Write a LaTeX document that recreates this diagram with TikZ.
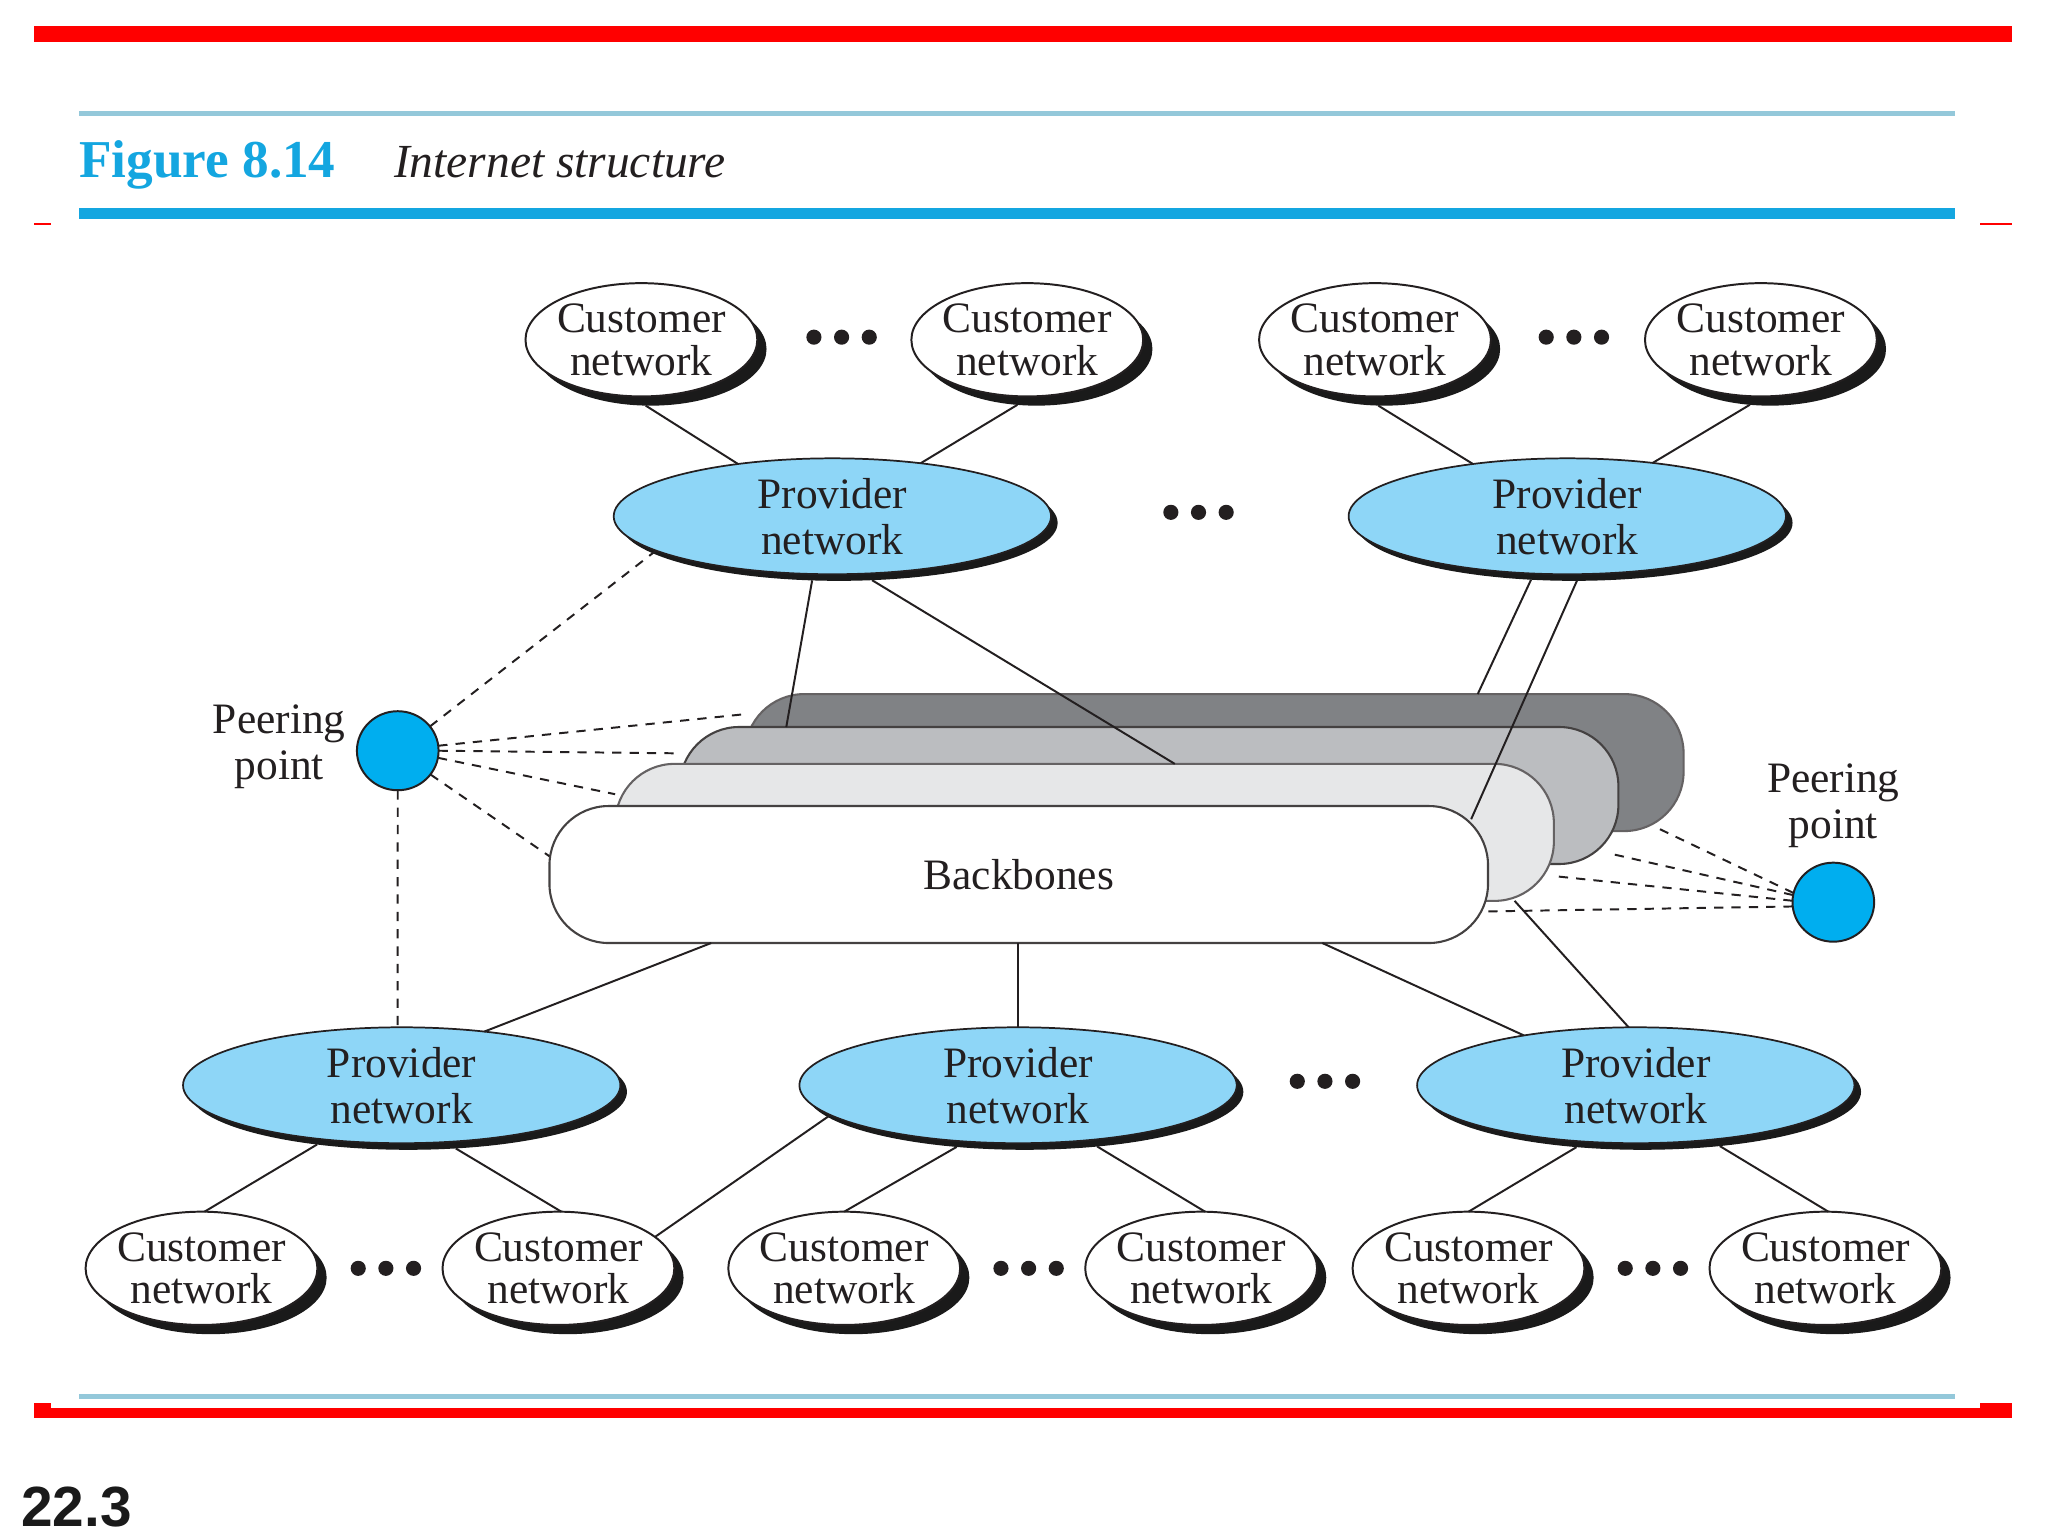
\documentclass[tikz,border=0pt]{standalone}
\usepackage{fontspec}
\usetikzlibrary{shapes.geometric}
\setmainfont{Liberation Serif}
\newfontfamily\arialbold[Scale=1]{Liberation Sans}
\definecolor{redbar}{HTML}{FF0000}
\definecolor{paleblue}{HTML}{94C8DA}
\definecolor{ruleblue}{HTML}{14A6E0}
\definecolor{provfill}{HTML}{8ED6F7}
\definecolor{peerfill}{HTML}{00AEEF}
\definecolor{shadowk}{HTML}{1A1A1A}
\definecolor{inkk}{HTML}{231F20}
\definecolor{layerA}{HTML}{808285}
\definecolor{layerB}{HTML}{BBBDC0}
\definecolor{layerC}{HTML}{E6E7E8}
\tikzset{
  x=0.04cm,y=-0.04cm,
  barred/.style={fill=redbar,draw=none},
  custsh/.style={ellipse,draw=none,fill=shadowk,minimum width=7.04cm,minimum height=3.44cm,inner sep=0pt,outer sep=0pt},
  cust/.style={ellipse,draw=inkk,line width=1.7pt,fill=white,minimum width=7.04cm,minimum height=3.44cm,inner sep=0pt,outer sep=0pt},
  provsh/.style={ellipse,draw=none,fill=shadowk,minimum width=13.28cm,minimum height=3.52cm,inner sep=0pt,outer sep=0pt},
  prov/.style={ellipse,draw=inkk,line width=1.5pt,fill=provfill,minimum width=13.28cm,minimum height=3.52cm,inner sep=0pt,outer sep=0pt},
  peer/.style={ellipse,draw=inkk,line width=1.7pt,fill=peerfill,minimum width=2.48cm,minimum height=2.4cm,inner sep=0pt,outer sep=0pt},
  layer/.style={rectangle,rounded corners=1.8cm,draw=#1,line width=1.8pt,minimum width=28.5cm,minimum height=4.16cm,inner sep=0pt,outer sep=0pt},
  custtxt/.style={text=inkk,align=center,font=\fontsize{37.5}{36.4}\selectfont,inner sep=0pt},
  provtxt/.style={text=inkk,align=center,font=\fontsize{37.5}{39.8}\selectfont,inner sep=0pt},
  wire/.style={draw=inkk,line width=1.7pt},
  dashwire/.style={draw=inkk,line width=1.7pt,dash pattern=on 8pt off 7pt},
  dotk/.style={circle,fill=inkk,draw=none,minimum size=0.46cm,inner sep=0pt},
}
\begin{document}
\begin{tikzpicture}
\useasboundingbox (0,0) rectangle (1555,1166.25);
\fill[white] (0,0) rectangle (1555,1166.25);
% frame rules
\fill[barred] (26,20) rectangle (1528,32);
\fill[paleblue] (60,84) rectangle (1484,88);
\fill[ruleblue] (60,158) rectangle (1484,166);
\fill[barred] (26,169) rectangle (39,171);
\fill[barred] (1503,169) rectangle (1528,171);
\fill[paleblue] (60,1058.5) rectangle (1484,1062);
\fill[barred] (26,1069) rectangle (1528,1077);
\fill[barred] (26,1065) rectangle (39,1069);
\fill[barred] (1503,1065) rectangle (1528,1069);
% title
\node[anchor=base west,inner sep=0pt,text=ruleblue,font=\fontsize{46}{46}\selectfont\bfseries] (figno) at (60,135) {Figure 8.14};
\node[anchor=base west,inner sep=0pt,text=inkk,font=\fontsize{41}{41}\selectfont\itshape] (figtitle) at (299,135) {Internet structure};
\node[anchor=base west,inner sep=0pt,text=shadowk,font=\fontsize{49}{49}\selectfont\arialbold\bfseries] (pageno) at (16,1159) {22.3};
% backbones
\node[layer=inkk!70,fill=layerA] (bbD) at (922,579) {};
\node[layer=inkk!85,fill=layerB] (bbC) at (872.5,604) {};
\node[layer=inkk!70,fill=layerC] (bbB) at (823.5,632) {};
\node[layer=inkk!85,fill=white,font=\fontsize{37.5}{40}\selectfont,text=inkk] (bbA) at (773.5,664) {Backbones};
% customer networks
\foreach \n/\x/\y in {c1/487/258,c2/780/258,c3/1044/258,c4/1337/258,c5/153/963,c6/424/963,c7/641/963,c8/912/963,c9/1115/963,c10/1386/963}{
  \node[custsh] (\n s) at (\x+7,\y+7) {};
  \node[cust,label={[custtxt]center:Customer\\network}] (\n) at (\x,\y) {};
}
% provider networks
\foreach \n/\x/\y in {p1/632/392,p2/1190/392,p3/305/824,p4/773/824,p5/1242/824}{
  \node[provsh] (\n s) at (\x+5,\y+5) {};
  \node[prov,label={[provtxt]center:Provider\\network}] (\n) at (\x,\y) {};
}
% peering points
\node[peer] (peerL) at (302,570) {};
\node[peer] (peerR) at (1392,685) {};
\node[provtxt] (peerLtxt) at (212,567) {Peering\\point};
\node[provtxt] (peerRtxt) at (1392,612) {Peering\\point};
% ellipsis dots
\foreach \n/\x/\y in {a/639/256,b/1195/256,e/910/389,f/1006/821,g/293/963,h/781/963,i/1255/963}{
  \node[dotk] (dot\n1) at (\x-21,\y) {};
  \node[dotk] (dot\n2) at (\x,\y) {};
  \node[dotk] (dot\n3) at (\x+21,\y) {};
}
% free ends on the backbones
\coordinate (eD1) at (597,552);
\coordinate (eC1) at (892,580);
\coordinate (eD2) at (1122,527);
\coordinate (eA1) at (1117,622);
\coordinate (eA2) at (540,716);
\coordinate (eA3) at (773,716);
\coordinate (eA4) at (1004,716);
\coordinate (eB1) at (1150,684);
\coordinate (lD) at (568,542);
\coordinate (lC) at (516,572);
\coordinate (lB) at (467,603);
\coordinate (lA) at (417,650);
\coordinate (rD) at (1257,628);
\coordinate (rC) at (1222,648);
\coordinate (rB) at (1178,665);
\coordinate (rA) at (1130,692);
% connectors
\draw[wire] (c1s.-95) -- (p1.151);
\draw[wire] (c2s.-109) -- (p1.31);
\draw[wire] (c3s.-96.6) -- (p2.151);
\draw[wire] (c4s.-110.6) -- (p2.32);
\draw[wire] (p1s.-115.7) -- (eD1);
\draw[wire] (p1s.-60) -- (eC1);
\draw[wire] (p2s.-127.4) -- (eD2);
\draw[wire] (p2s.-87.4) -- (eA1);
\draw[wire] (eA2) -- (p3.33.3);
\draw[wire] (eA3) -- (p4.90);
\draw[wire] (eA4) -- (p5.156);
\draw[wire] (eB1) -- (p5.97.8);
\draw[wire] (p3s.-150.3) -- (c5.87);
\draw[wire] (p3s.-50) -- (c6.87);
\draw[wire] (p4.-171.8) -- (c6.18.2);
\draw[wire] (p4s.-141.8) -- (c7.90);
\draw[wire] (p4s.-37.6) -- (c8.86);
\draw[wire] (p5s.-140.6) -- (c9.90);
\draw[wire] (p5s.-35.4) -- (c10.87);
% dashed peering links
\draw[dashwire] (peerL.37) -- (p1.-169.3);
\draw[dashwire] (peerL.7) -- (lD);
\draw[dashwire] (peerL.0) -- (lC);
\draw[dashwire] (peerL.-10) -- (lB);
\draw[dashwire] (peerL.-36) -- (lA);
\draw[dashwire] (peerL.-90) -- (p3.94);
\draw[dashwire] (peerR.167) -- (rD);
\draw[dashwire] (peerR.170.5) -- (rC);
\draw[dashwire] (peerR.178) -- (rB);
\draw[dashwire] (peerR.186) -- (rA);
\end{tikzpicture}
\end{document}
